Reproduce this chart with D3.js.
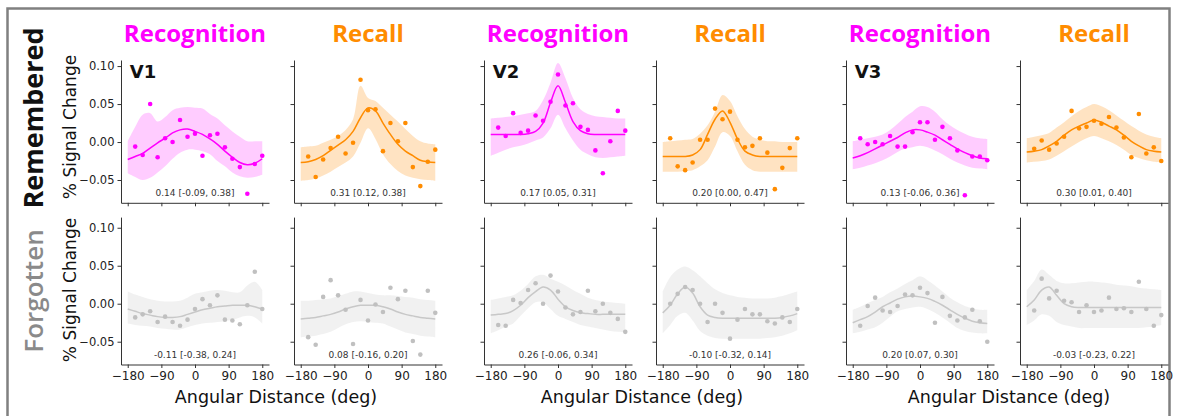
<!DOCTYPE html>
<html>
<head>
<meta charset="utf-8">
<style>
  body { margin: 0; background: #fff; }
  text { font-family: "DejaVu Sans", sans-serif; }
</style>
</head>
<body>
<script src="https://cdn.jsdelivr.net/npm/d3@7"></script>
<script>
// ---- data ----
var pointAngles = [-160,-140,-120,-100,-80,-60,-40,-20,0,20,40,60,80,100,120,140,160,180];
var fitAngles = [-180,-160,-140,-120,-100,-80,-60,-40,-20,0,20,40,60,80,100,120,140,160,180];
var xTicks = [-180,-90,0,90,180];
var yTicks = [-0.05,0,0.05,0.10];
var colTitles = ["Recognition","Recall","Recognition","Recall","Recognition","Recall"];
var areaLabels = ["V1","V2","V3"];
var rowLabels = ["Remembered","Forgotten"];

// remembered row
var v1RecogRemPts = [-0.006,-0.017,0.050,-0.020,0.005,0.000,0.029,0.007,0.011,-0.018,0.009,0.011,-0.007,-0.022,-0.033,-0.068,-0.029,-0.018];
var v1RecogRemFit = [-0.023,-0.019,-0.015,-0.008,-0.001,0.005,0.012,0.016,0.017,0.014,0.010,0.004,-0.003,-0.012,-0.020,-0.027,-0.030,-0.028,-0.022];
var v1RecogRemHi  = [0.001,0.020,0.036,0.038,0.027,0.033,0.042,0.045,0.046,0.045,0.044,0.037,0.031,0.022,0.014,0.007,0.001,0.001,0.001];
var v1RecogRemLo  = [-0.041,-0.046,-0.050,-0.047,-0.040,-0.032,-0.022,-0.014,-0.010,-0.010,-0.012,-0.016,-0.025,-0.032,-0.040,-0.045,-0.047,-0.046,-0.043];

var v1RecallRemPts = [-0.019,-0.046,-0.023,-0.008,0.007,-0.015,-0.001,0.082,0.042,0.043,-0.012,0.025,0.001,0.025,-0.033,-0.058,-0.026,-0.010];
var v1RecallRemFit = [-0.027,-0.026,-0.023,-0.018,-0.011,-0.004,0.003,0.014,0.032,0.045,0.041,0.025,0.010,-0.003,-0.012,-0.018,-0.024,-0.026,-0.027];
var v1RecallRemHi  = [-0.007,-0.006,-0.005,-0.001,0.003,0.008,0.016,0.030,0.074,0.058,0.054,0.045,0.036,0.027,0.017,0.008,0.001,-0.002,-0.003];
var v1RecallRemLo  = [-0.051,-0.050,-0.048,-0.044,-0.039,-0.033,-0.027,-0.019,-0.001,0.018,0.004,-0.016,-0.029,-0.038,-0.044,-0.047,-0.049,-0.050,-0.051];

var v2RecogRemPts = [0.019,0.008,0.038,0.012,0.015,0.035,0.028,0.053,0.089,0.048,0.051,0.020,0.016,-0.011,-0.041,0.001,0.041,0.015];
var v2RecogRemFit = [0.010,0.010,0.010,0.010,0.010,0.011,0.014,0.025,0.052,0.074,0.052,0.027,0.015,0.011,0.010,0.010,0.010,0.010,0.010];
var v2RecogRemHi  = [0.031,0.032,0.033,0.034,0.036,0.038,0.041,0.055,0.078,0.104,0.084,0.058,0.043,0.037,0.034,0.033,0.032,0.031,0.031];
var v2RecogRemLo  = [-0.018,-0.014,-0.010,-0.007,-0.005,-0.002,0.002,0.006,0.018,0.036,0.018,0.002,-0.010,-0.016,-0.020,-0.021,-0.020,-0.019,-0.018];

var v2RecallRemPts = [0.005,-0.032,-0.037,-0.027,0.003,0.003,0.044,0.030,0.040,0.003,-0.007,-0.005,0.005,-0.014,-0.062,-0.034,-0.008,0.005];
var v2RecallRemFit = [-0.019,-0.019,-0.019,-0.019,-0.017,-0.010,0.010,0.030,0.041,0.026,0.004,-0.012,-0.017,-0.019,-0.019,-0.019,-0.019,-0.019,-0.019];
var v2RecallRemHi  = [0.000,0.001,0.002,0.003,0.004,0.011,0.022,0.040,0.062,0.054,0.034,0.017,0.007,0.003,0.001,0.001,0.000,0.000,0.000];
var v2RecallRemLo  = [-0.039,-0.039,-0.039,-0.038,-0.037,-0.032,-0.024,-0.006,0.013,0.008,-0.012,-0.030,-0.037,-0.039,-0.039,-0.039,-0.039,-0.039,-0.039];

var v3RecogRemPts = [0.005,-0.003,0.000,-0.003,0.008,-0.006,-0.006,0.013,0.026,0.026,0.003,0.020,0.005,-0.011,-0.070,-0.019,-0.019,-0.024];
var v3RecogRemFit = [-0.021,-0.018,-0.014,-0.009,-0.004,0.001,0.006,0.012,0.016,0.016,0.013,0.009,0.003,-0.003,-0.009,-0.014,-0.018,-0.021,-0.022];
var v3RecogRemHi  = [0.001,0.003,0.005,0.007,0.010,0.016,0.024,0.033,0.040,0.047,0.046,0.040,0.030,0.022,0.016,0.011,0.007,0.005,0.004];
var v3RecogRemLo  = [-0.036,-0.034,-0.031,-0.028,-0.024,-0.019,-0.013,-0.009,-0.007,-0.005,-0.007,-0.011,-0.016,-0.022,-0.027,-0.031,-0.034,-0.035,-0.036];

var v3RecallRemPts = [-0.009,0.002,-0.010,-0.002,0.007,0.041,0.018,0.020,0.028,0.024,0.033,0.019,0.006,-0.020,0.037,-0.015,-0.007,-0.025];
var v3RecallRemFit = [-0.013,-0.012,-0.010,-0.005,0.001,0.009,0.016,0.021,0.025,0.029,0.026,0.021,0.016,0.009,0.001,-0.005,-0.010,-0.012,-0.013];
var v3RecallRemHi  = [0.005,0.007,0.009,0.012,0.019,0.026,0.034,0.041,0.046,0.050,0.047,0.042,0.035,0.028,0.021,0.015,0.010,0.007,0.005];
var v3RecallRemLo  = [-0.027,-0.026,-0.025,-0.023,-0.018,-0.012,-0.006,0.000,0.005,0.008,0.005,0.001,-0.004,-0.010,-0.017,-0.021,-0.024,-0.026,-0.027];

// forgotten row
var v1RecogForPts = [-0.018,-0.014,-0.010,-0.024,-0.017,-0.024,-0.029,-0.021,-0.007,0.006,-0.002,0.011,-0.021,-0.022,-0.027,-0.002,0.042,-0.007];
var v1RecogForFit = [-0.007,-0.010,-0.013,-0.015,-0.017,-0.018,-0.018,-0.017,-0.014,-0.011,-0.008,-0.006,-0.004,-0.003,-0.002,-0.002,-0.002,-0.004,-0.007];
var v1RecogForHi  = [0.016,0.012,0.009,0.006,0.004,0.003,0.003,0.004,0.008,0.013,0.015,0.017,0.018,0.017,0.015,0.015,0.024,0.029,0.018];
var v1RecogForLo  = [-0.026,-0.028,-0.029,-0.030,-0.032,-0.033,-0.034,-0.034,-0.031,-0.028,-0.026,-0.025,-0.024,-0.023,-0.021,-0.018,-0.016,-0.018,-0.026];

var v1RecallForPts = [-0.044,-0.054,0.009,0.031,0.011,-0.008,-0.053,0.005,-0.022,-0.001,-0.011,0.021,0.006,0.017,-0.049,-0.067,0.017,-0.012];
var v1RecallForFit = [-0.020,-0.019,-0.018,-0.016,-0.014,-0.011,-0.007,-0.004,-0.002,-0.002,-0.002,-0.004,-0.007,-0.011,-0.014,-0.016,-0.018,-0.019,-0.020];
var v1RecallForHi  = [0.004,0.004,0.005,0.006,0.007,0.010,0.013,0.016,0.016,0.014,0.012,0.011,0.011,0.010,0.009,0.008,0.006,0.005,0.004];
var v1RecallForLo  = [-0.044,-0.043,-0.042,-0.040,-0.037,-0.032,-0.027,-0.024,-0.023,-0.024,-0.025,-0.026,-0.030,-0.034,-0.038,-0.040,-0.042,-0.043,-0.044];

var v2RecogForPts = [-0.028,-0.029,0.005,0.001,0.018,0.027,0.000,0.037,0.016,-0.005,-0.014,-0.011,0.017,-0.010,0.000,-0.012,-0.020,-0.037];
var v2RecogForFit = [-0.015,-0.014,-0.013,-0.009,-0.002,0.008,0.016,0.022,0.018,0.006,-0.004,-0.009,-0.012,-0.013,-0.014,-0.014,-0.014,-0.014,-0.014];
var v2RecogForHi  = [0.005,0.007,0.009,0.011,0.017,0.026,0.036,0.038,0.033,0.029,0.024,0.018,0.013,0.008,0.005,0.003,0.002,0.001,0.000];
var v2RecogForLo  = [-0.039,-0.035,-0.030,-0.026,-0.016,-0.006,0.002,0.002,-0.007,-0.016,-0.020,-0.024,-0.028,-0.030,-0.032,-0.034,-0.036,-0.037,-0.038];

var v2RecallForPts = [0.000,0.013,0.022,0.018,0.000,-0.024,0.000,-0.012,-0.046,-0.021,-0.007,-0.014,-0.014,-0.023,-0.026,-0.018,-0.024,-0.007];
var v2RecallForFit = [-0.012,-0.002,0.013,0.022,0.014,-0.004,-0.015,-0.018,-0.019,-0.019,-0.019,-0.019,-0.019,-0.019,-0.019,-0.019,-0.018,-0.016,-0.013];
var v2RecallForHi  = [0.016,0.035,0.045,0.049,0.044,0.036,0.027,0.019,0.014,0.011,0.009,0.008,0.007,0.007,0.007,0.008,0.010,0.013,0.016];
var v2RecallForLo  = [-0.039,-0.028,-0.016,-0.012,-0.022,-0.036,-0.042,-0.045,-0.046,-0.046,-0.046,-0.046,-0.046,-0.046,-0.045,-0.044,-0.042,-0.039,-0.035];

var v3RecogForPts = [-0.029,-0.003,0.008,-0.009,-0.011,-0.003,0.012,0.011,0.021,0.014,-0.025,0.009,-0.016,-0.022,-0.018,-0.008,-0.023,-0.050];
var v3RecogForFit = [-0.025,-0.021,-0.017,-0.011,-0.004,0.001,0.006,0.009,0.010,0.009,0.007,0.003,-0.002,-0.008,-0.014,-0.019,-0.023,-0.025,-0.026];
var v3RecogForHi  = [-0.008,-0.004,0.001,0.005,0.009,0.015,0.020,0.026,0.031,0.036,0.031,0.024,0.016,0.008,0.002,-0.003,-0.006,-0.008,-0.008];
var v3RecogForLo  = [-0.039,-0.037,-0.034,-0.031,-0.025,-0.017,-0.010,-0.007,-0.005,-0.004,-0.007,-0.012,-0.018,-0.025,-0.032,-0.036,-0.038,-0.039,-0.039];

var v3RecallForPts = [-0.009,0.033,0.007,0.017,0.004,0.002,-0.011,-0.002,-0.011,-0.009,0.008,-0.007,-0.006,-0.011,0.029,-0.007,-0.029,-0.015];
var v3RecallForFit = [-0.004,0.005,0.018,0.022,0.011,0.000,-0.004,-0.005,-0.005,-0.005,-0.005,-0.005,-0.005,-0.005,-0.005,-0.005,-0.005,-0.005,-0.005];
var v3RecallForHi  = [0.018,0.030,0.045,0.038,0.030,0.027,0.027,0.028,0.029,0.029,0.028,0.027,0.025,0.024,0.023,0.021,0.020,0.019,0.018];
var v3RecallForLo  = [-0.028,-0.022,-0.014,-0.016,-0.024,-0.028,-0.030,-0.032,-0.032,-0.032,-0.032,-0.032,-0.032,-0.032,-0.032,-0.032,-0.031,-0.030,-0.028];

var statsRem = ["0.14 [-0.09, 0.38]","0.31 [0.12, 0.38]","0.17 [0.05, 0.31]","0.20 [0.00, 0.47]","0.13 [-0.06, 0.36]","0.30 [0.01, 0.40]"];
var statsFor = ["-0.11 [-0.38, 0.24]","0.08 [-0.16, 0.20]","0.26 [-0.06, 0.34]","-0.10 [-0.32, 0.14]","0.20 [0.07, 0.30]","-0.03 [-0.23, 0.22]"];

// ---- layout ----
var svgWidth = 1177, svgHeight = 416;
var colLeft = [121, 294, 484, 656, 846, 1020];
var plotW = 148;
var rowsLayout = [
    { domain: [-0.08, 0.108], range: [202.8, 60] },
    { domain: [-0.08, 0.114], range: [364.5, 217.1] }
];
var recogColor = "#ff00ff", recallColor = "#ff8c00", greyColor = "#c4c4c4";

var panels = [
    [v1RecogRemPts, v1RecogRemFit, v1RecogRemHi, v1RecogRemLo],
    [v1RecallRemPts, v1RecallRemFit, v1RecallRemHi, v1RecallRemLo],
    [v2RecogRemPts, v2RecogRemFit, v2RecogRemHi, v2RecogRemLo],
    [v2RecallRemPts, v2RecallRemFit, v2RecallRemHi, v2RecallRemLo],
    [v3RecogRemPts, v3RecogRemFit, v3RecogRemHi, v3RecogRemLo],
    [v3RecallRemPts, v3RecallRemFit, v3RecallRemHi, v3RecallRemLo],
    [v1RecogForPts, v1RecogForFit, v1RecogForHi, v1RecogForLo],
    [v1RecallForPts, v1RecallForFit, v1RecallForHi, v1RecallForLo],
    [v2RecogForPts, v2RecogForFit, v2RecogForHi, v2RecogForLo],
    [v2RecallForPts, v2RecallForFit, v2RecallForHi, v2RecallForLo],
    [v3RecogForPts, v3RecogForFit, v3RecogForHi, v3RecogForLo],
    [v3RecallForPts, v3RecallForFit, v3RecallForHi, v3RecallForLo]
];

var svg = d3.select("body").append("svg")
    .attr("width", svgWidth)
    .attr("height", svgHeight);

// grey frame round the figure
svg.append("rect")
    .attr("x", 7.5).attr("y", 8.5)
    .attr("width", 1162).attr("height", 420)
    .attr("fill", "none")
    .attr("stroke", "#808080")
    .attr("stroke-width", 2.5);

panels.forEach(function (p, i) {
    var row = Math.floor(i / 6), col = i % 6;
    var isRecog = col % 2 === 0;
    var color = row === 1 ? greyColor : (isRecog ? recogColor : recallColor);

    var x = d3.scaleLinear().domain([-198, 198]).range([colLeft[col], colLeft[col] + plotW]);
    var y = d3.scaleLinear().domain(rowsLayout[row].domain).range(rowsLayout[row].range);

    var g = svg.append("g");

    var fitData = fitAngles.map(function (a, k) { return { a: a, v: p[1][k], hi: p[2][k], lo: p[3][k] }; });

    g.append("path")
        .datum(fitData)
        .attr("d", d3.area()
            .x(function (d) { return x(d.a); })
            .y0(function (d) { return y(d.lo); })
            .y1(function (d) { return y(d.hi); })
            .curve(d3.curveCatmullRom.alpha(0.5)))
        .attr("fill", row === 1 ? "#d8d8d8" : color)
        .attr("opacity", row === 1 ? 0.35 : (isRecog ? 0.2 : 0.24));

    g.append("path")
        .datum(fitData)
        .attr("d", d3.line()
            .x(function (d) { return x(d.a); })
            .y(function (d) { return y(d.v); })
            .curve(d3.curveCatmullRom.alpha(0.5)))
        .attr("fill", "none")
        .attr("stroke", row === 1 ? "#c8c8c8" : color)
        .attr("stroke-width", 1.5);

    g.selectAll("circle")
        .data(pointAngles.map(function (a, k) { return { a: a, v: p[0][k] }; }))
        .enter().append("circle")
        .attr("cx", function (d) { return x(d.a); })
        .attr("cy", function (d) { return y(d.v); })
        .attr("r", 2.3)
        .attr("fill", row === 1 ? "#c0c0c0" : color);

    // axes
    var yAxis = d3.axisLeft(y).tickValues(yTicks).tickSize(3.5).tickSizeOuter(0).tickPadding(3)
        .tickFormat(col === 0 ? d3.format(".2f") : "");
    var xAxis = d3.axisBottom(x).tickValues(xTicks).tickSize(3.5).tickSizeOuter(0).tickPadding(3)
        .tickFormat(row === 1 ? d3.format("d") : "");

    var ya = g.append("g").attr("transform", "translate(" + colLeft[col] + ",0)").call(yAxis);
    var xa = g.append("g").attr("transform", "translate(0," + rowsLayout[row].range[0] + ")").call(xAxis);
    [ya, xa].forEach(function (a) {
        a.selectAll("path, line").attr("stroke", "#333");
        a.selectAll("text").attr("fill", "#222").style("font-family", "DejaVu Sans");
    });
    ya.selectAll("text").style("font-size", "11.5px");
    xa.selectAll("text").style("font-size", "12px");

    // bootstrap stat
    g.append("text")
        .attr("x", colLeft[col] + plotW / 2)
        .attr("y", rowsLayout[row].range[0] - 7)
        .attr("text-anchor", "middle")
        .attr("fill", "#333")
        .style("font-size", "9px")
        .text(row === 0 ? statsRem[col] : statsFor[col]);

    if (row === 0 && isRecog) {
        g.append("text")
            .attr("x", x(-180) + 2)
            .attr("y", 78)
            .attr("fill", "#111")
            .style("font-size", "18px")
            .style("font-weight", "bold")
            .text(areaLabels[col / 2]);
    }
});

// column titles
svg.selectAll(".coltitle")
    .data(colTitles)
    .enter().append("text")
    .attr("class", "coltitle")
    .attr("x", function (d, i) { return colLeft[i] + plotW / 2; })
    .attr("y", 42)
    .attr("text-anchor", "middle")
    .attr("fill", function (d, i) { return i % 2 === 0 ? recogColor : recallColor; })
    .style("font-family", "'Open Sans', sans-serif")
    .style("font-weight", "bold")
    .style("font-size", "24px")
    .text(function (d) { return d; });

// y labels
[127, 290].forEach(function (cy, r) {
    svg.append("text")
        .attr("transform", "translate(76," + cy + ") rotate(-90)")
        .attr("text-anchor", "middle")
        .attr("fill", "#111")
        .style("font-size", "17px")
        .text("% Signal Change");
    svg.append("text")
        .attr("transform", "translate(43," + (r === 0 ? 118 : 291) + ") rotate(-90)")
        .attr("text-anchor", "middle")
        .attr("fill", r === 0 ? "#111" : "#8a8a8a")
        .style("font-family", "'Open Sans', sans-serif")
        .style("font-weight", r === 0 ? "bold" : "600")
        .style("font-size", r === 0 ? "27px" : "26px")
        .text(rowLabels[r]);
});

// x labels, one per pair of panels
[276, 642, 1009].forEach(function (cx) {
    svg.append("text")
        .attr("x", cx)
        .attr("y", 403)
        .attr("text-anchor", "middle")
        .attr("fill", "#111")
        .style("font-size", "17.5px")
        .text("Angular Distance (deg)");
});
</script>
</body>
</html>
